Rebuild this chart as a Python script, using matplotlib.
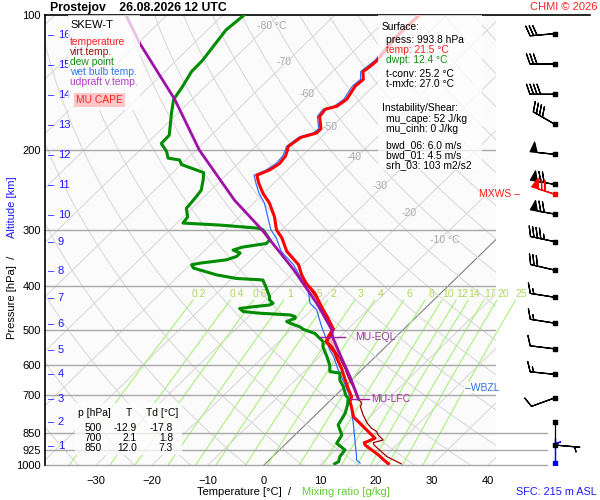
import numpy as np
import matplotlib
matplotlib.use('Agg')
import matplotlib.pyplot as plt
from matplotlib.patches import Rectangle

plt.rcParams['font.family'] = ['Liberation Sans', 'DejaVu Sans']

# ---- sounding data ----
p_temp = [994, 971, 950, 903, 892, 888, 872, 843, 808, 781, 742, 723, 705, 675, 642,
          610, 579, 564, 545, 532, 515, 499, 470, 445, 415, 395, 378, 359, 335, 313,
          300, 281, 262, 249, 236, 227, 221, 214, 206, 200, 196, 187, 183, 179, 168,
          162, 159.5, 154, 144, 139, 133.6, 130.6, 126.3, 112, 100]
t_temp = [22.0, 20.2, 18.6, 14.4, 13.8, 14.1, 14.9, 12.5, 9.5, 7.1, 4.9, 3.7, 3.1, 0.9, -1.5,
          -3.9, -6.6, -7.9, -10.0, -11.6, -12.2, -12.6, -15.8, -18.8, -22.5, -25.8, -28.2, -30.6, -35.2, -38.5,
          -41.0, -43.7, -47.1, -50.1, -52.8, -54.5, -53.2, -52.6, -52.9, -53.6, -54.2, -53.6, -51.6, -51.6, -54.1,
          -54.4, -52.9, -52.4, -53.3, -53.1, -54.6, -54.3, -54.1, -55.0, -54.9]

p_virt = [994, 958, 903, 892, 888, 880, 858, 843, 829, 808, 774, 742, 729, 705, 675,
          642, 610, 579, 545, 532, 515, 499, 470, 445, 400]
t_virt = [24.3, 20.4, 16.0, 15.4, 15.8, 16.7, 14.9, 14.0, 12.5, 10.8, 8.5, 6.5, 6.1, 4.0, 1.9,
          -0.8, -3.3, -6.1, -9.6, -11.3, -11.9, -12.4, -15.6, -18.7, -25.0]

p_wetb = [990, 975, 958, 895, 808, 755, 705, 660, 615, 574, 555, 527, 493, 452, 437,
          408, 381, 359, 335, 313, 300, 281, 262, 249, 236, 227, 221, 214, 206, 200,
          196, 187, 183, 179, 168, 162, 159.5, 154, 144, 139, 133.6, 130.6, 126.3, 112, 100]
t_wetb = [16.8, 15.6, 15.0, 12.3, 8.3, 5.5, 2.8, -0.5, -4.2, -7.5, -9.4, -11.8, -15.1, -19.1, -21.5,
          -24.3, -28.2, -31.5, -36.2, -39.5, -42.0, -44.9, -48.0, -50.8, -53.3, -55.0, -53.8, -53.2, -53.4, -54.0,
          -54.5, -54.0, -52.2, -52.0, -54.5, -54.8, -53.4, -52.9, -53.8, -53.6, -55.0, -54.8, -54.5, -55.3, -55.2]

p_dewp = [994, 983, 958, 926, 895, 858, 815, 768, 736, 711, 700, 670, 647, 625, 620,
          600, 574, 546, 532, 510, 500, 493, 484, 480, 472, 468, 464, 460, 456, 449,
          445, 441, 437, 430, 422, 401, 388, 385, 378, 365, 359, 356, 350, 344, 338,
          333, 328, 322, 316, 300, 297.5, 293, 290, 281, 269, 253, 245, 232, 224, 215,
          210, 208, 201, 193, 185, 165, 154, 145, 133.6, 126.3, 108, 100]
t_dewp = [12.4, 12.7, 12.0, 11.7, 9.0, 8.4, 5.9, 5.0, 3.9, 2.8, 1.8, -0.2, -2.1, -3.3, -5.4,
          -6.6, -8.7, -11.2, -12.1, -15.1, -17.8, -19.0, -21.4, -22.3, -21.4, -21.7, -22.9, -28.6, -31.9, -33.1,
          -31.0, -28.4, -28.1, -29.3, -30.0, -32.5, -34.2, -39.2, -43.4, -48.8, -49.7, -48.5, -44.4, -43.2, -43.2,
          -45.0, -43.9, -40.3, -40.3, -43.4, -44.8, -51.9, -58.9, -59.2, -61.0, -61.4, -61.7, -63.3, -64.5, -69.9,
          -71.1, -73.5, -75.0, -77.4, -77.5, -81.2, -83.3, -84.0, -85.2, -85.3, -86.7, -86.2]

p_parcel = [714, 711, 636, 565, 519, 501, 437, 368, 344, 300, 258, 199.6, 154, 115.5, 100]
t_parcel = [4.7, 4.6, -0.9, -7.0, -11.3, -12.7, -20.3, -30.6, -34.9, -43.6, -53.9, -69.4, -83.1, -99.7, -107.3]

p_eql = 519
p_lfc = 714
p_wbzl = 673

# altitude scale (km) and the pressure at each km
alt_km = list(range(1, 17))
p_alt = [907, 802.5, 713, 628, 555, 486, 425, 370.5, 319, 278, 239, 204.5, 175.5, 150.5, 129, 110.8]

# winds at the km levels (kt)
p_wind = [110, 128.5, 150, 175, 204, 238, 277, 319, 369, 424, 484, 552, 629, 709, 903]
wdir = [265, 270, 270, 300, 276, 280, 280, 282, 283, 279, 279, 277, 276, 250, 95]
wspd = [30, 30, 40, 40, 50, 70, 70, 45, 30, 15, 15, 10, 15, 10, 5]
p_calm = 804
p_mxws, dir_mxws, spd_mxws = 250, 288, 70
p_sfc_wind, dir_sfc, spd_sfc = 990, 360, 5

mix_ratios = [0.2, 0.4, 0.6, 1, 1.5, 2, 3, 4, 6, 8, 10, 12, 14, 17, 20, 25]
iso_lab_t = [-80, -70, -60, -50, -40, -30, -20, -10]
iso_lab_p = [106, 127, 150, 177, 207, 240, 275, 316]
iso_lab_s = ['-80 °C', '-70', '-60', '-50', '-40', '-30', '-20', '-10 °C']

SKEW = 35.9
W, H = 600, 500


def skx(t, p):
    return np.asarray(t, float) + SKEW * np.log(1000.0 / np.asarray(p, float))


def fx(px):
    return px / W


def fy(py):
    return 1 - py / H


fig = plt.figure(figsize=(6, 5), dpi=100, facecolor='white')
ax = fig.add_axes([fx(45), fy(465), 451 / W, 450 / H])
ax.set_facecolor('#fbfbfb')
ax.set_yscale('log')
ax.set_ylim(1000, 100)
x0, x1 = (45 - 264) / 5.6, (496 - 264) / 5.6
ax.set_xlim(x0, x1)

pp = np.logspace(np.log10(1000), np.log10(100), 200)

# isotherms
for t in range(-130, 50, 10):
    c = '#808080' if t == 0 else '#dadada'
    ax.plot(skx(t, pp), pp, color=c, lw=0.8, zorder=1)
# dry adiabats
for th in range(230, 480, 10):
    tt = th * (pp / 1000.0) ** 0.2857 - 273.15
    ax.plot(skx(tt, pp), pp, color='#dadada', lw=0.8, zorder=1)

# mixing ratio lines
clip = Rectangle((0, 0), 1.3, 1, transform=ax.transAxes, visible=False)
ax.add_patch(clip)
pm = np.logspace(np.log10(1000), np.log10(430), 60)
for w in mix_ratios:
    e = w * pm / (622.0 + w)
    le = np.log(e / 6.112)
    td = 243.5 * le / (17.67 - le)
    ln, = ax.plot(skx(td, pm), pm, color='#a8f07c', lw=0.8, zorder=1.5, clip_on=True)
    ln.set_clip_path(clip)
    ax.text(skx(td[-1], 417), 417, ('%g' % w), color='#b0d85a', fontsize=7.5,
            ha='center', va='center', zorder=1.5, clip_on=False)

# isobars
for p in [200, 300, 400, 500, 600, 700]:
    ax.plot([x0, x1], [p, p], color='#a8a8a8', lw=1, zorder=2)
for p in [850, 925, 1000]:
    ax.plot([x0, (547 - 264) / 5.6], [p, p], color='#a8a8a8', lw=1, zorder=2, clip_on=False)
ax.plot([x0, (590 - 264) / 5.6], [100, 100], color='black', lw=1.2, zorder=2, clip_on=False)

for t, p, s in zip(iso_lab_t, iso_lab_p, iso_lab_s):
    ax.text(skx(t, p) - 1.8, p, s, color='#a8a8a8', fontsize=7.5, ha='left', va='center', zorder=1.6)

# CAPE area
pg = np.logspace(np.log10(p_lfc), np.log10(p_eql), 40)
xv = np.interp(-np.log(pg), -np.log(p_virt), skx(t_virt, p_virt))
xp = np.interp(-np.log(pg), -np.log(p_parcel), skx(t_parcel, p_parcel))
ax.fill_betweenx(pg, xv, xp, where=xp > xv, color='#f5b4b4', lw=0, zorder=2.5)

# profiles
ax.plot(skx(t_virt, p_virt), p_virt, color='#a00000', lw=0.9, zorder=3)
ax.plot(skx(t_wetb, p_wetb), p_wetb, color='#2f6fff', lw=0.9, zorder=3.2)
ax.plot(skx(t_temp, p_temp), p_temp, color='#ff0000', lw=2.2, zorder=4)
ax.plot(skx(t_dewp, p_dewp), p_dewp, color='#008c00', lw=2.2, zorder=4)
ax.plot(skx(t_parcel, p_parcel), p_parcel, color='#a010a8', lw=2.0, zorder=4.5)

# EQL / LFC markers
xe = np.interp(-np.log(p_eql), -np.log(p_parcel), skx(t_parcel, p_parcel))
ax.plot([xe - 2.3, xe + 2.3], [p_eql, p_eql], color='#a020a0', lw=1, zorder=5)
ax.text(xe + 4.0, p_eql, 'MU-EQL', color='#a030a0', fontsize=7.5, va='center', zorder=5)
xl = np.interp(-np.log(p_lfc), -np.log(p_parcel), skx(t_parcel, p_parcel))
ax.plot([xl - 1.4, xl + 2.0], [p_lfc, p_lfc], color='#a020a0', lw=1, zorder=5)
ax.text(xl + 2.4, p_lfc, 'MU-LFC', color='#a030a0', fontsize=7.5, va='center', zorder=5)
ax.text((465 - 264) / 5.6, p_wbzl, '–WBZL', color='#3070e0', fontsize=7.5, va='center',
        zorder=5, clip_on=False, bbox=dict(facecolor='white', edgecolor='none', pad=0.5))

# axes style
for s in ['top', 'right', 'bottom']:
    ax.spines[s].set_visible(False)
ax.spines['left'].set_linewidth(1.2)
ax.set_yticks([100, 200, 300, 400, 500, 600, 700, 850, 925, 1000])
ax.set_yticklabels(['100', '200', '300', '400', '500', '600', '700', '850', '925', '1000'])
ax.yaxis.set_minor_locator(matplotlib.ticker.NullLocator())
ax.set_xticks(range(-30, 41, 10))
ax.tick_params(axis='both', length=0, labelsize=8)
ax.tick_params(axis='y', pad=3)
ax.tick_params(axis='x', pad=8)

# altitude scale
for k, p in zip(alt_km, p_alt):
    ax.text(0.006, p, '–', color='#1a1aff', fontsize=8, va='center', ha='left',
            transform=ax.get_yaxis_transform())
    ax.text(0.028, p, str(k), color='#1a1aff', fontsize=8, va='center', ha='left',
            transform=ax.get_yaxis_transform())

# semi transparent boxes
fig.patches.append(Rectangle((fx(68), fy(110)), 72 / W, 95 / H, transform=fig.transFigure,
                             facecolor='white', alpha=0.75, edgecolor='none', zorder=6))
fig.patches.append(Rectangle((fx(378), fy(170)), 104 / W, 155 / H, transform=fig.transFigure,
                             facecolor='white', alpha=0.75, edgecolor='none', zorder=6))
fig.patches.append(Rectangle((fx(75), fy(455)), 107 / W, 52 / H, transform=fig.transFigure,
                             facecolor='white', alpha=0.75, edgecolor='none', zorder=6))

fs = 7.4
leg = [('SKEW-T', 'black', 25), ('temperature', '#ff2020', 42), ('virt.temp.', '#a01010', 52),
       ('dew point', '#109010', 62), ('wet bulb temp.', '#3377ee', 72), ('udpraft v.temp.', '#b040c0', 82)]
for s, c, y in leg:
    fig.text(fx(70), fy(y), s, color=c, fontsize=fs if s != 'SKEW-T' else 8, va='center', zorder=7)
fig.text(fx(76), fy(100), 'MU CAPE', color='#ff2020', fontsize=fs, va='center', zorder=7,
         bbox=dict(facecolor='#ffc8c8', edgecolor='none', pad=1.5))

info = [('Surface:', 'black', 382, 27), ('press: 993.8 hPa', 'black', 386, 40),
        ('temp: 21.5 °C', '#ff2020', 386, 50), ('dwpt: 12.4 °C', '#109010', 386, 60),
        ('t-conv: 25.2 °C', 'black', 386, 74), ('t-mxfc: 27.0 °C', 'black', 386, 84),
        ('Instability/Shear:', 'black', 382, 108), ('mu_cape: 52 J/kg', 'black', 386, 119),
        ('mu_cinh: 0 J/kg', 'black', 386, 129), ('bwd_06: 6.0 m/s', 'black', 386, 145),
        ('bwd_01: 4.5 m/s', 'black', 386, 155), ('srh_03: 103 m2/s2', 'black', 386, 165)]
for s, c, x, y in info:
    fig.text(fx(x), fy(y), s, color=c, fontsize=fs, va='center', zorder=7)

tab_p = ['500', '700', '850']
tab_t = ['-12.9', '2.1', '12.0']
tab_td = ['-17.8', '1.8', '7.3']
fig.text(fx(78), fy(413), 'p [hPa]', fontsize=fs, va='center', zorder=7)
fig.text(fx(126), fy(413), 'T', fontsize=fs, va='center', zorder=7)
fig.text(fx(146), fy(413), 'Td [°C]', fontsize=fs, va='center', zorder=7)
for i in range(3):
    y = 428 + 10 * i
    fig.text(fx(102), fy(y), tab_p[i], fontsize=fs, va='center', ha='right', zorder=7)
    fig.text(fx(137), fy(y), tab_t[i], fontsize=fs, va='center', ha='right', zorder=7)
    fig.text(fx(173), fy(y), tab_td[i], fontsize=fs, va='center', ha='right', zorder=7)

# titles and labels
fig.text(fx(50), fy(8), 'Prostejov    26.08.2026 12 UTC', fontsize=8.8, fontweight='bold', va='center')
fig.text(fx(597), fy(7), 'CHMI © 2026', fontsize=8, color='#ff2020', ha='right', va='center')
fig.text(fx(597), fy(492), 'SFC: 215 m ASL', fontsize=7.8, color='#1a1aff', ha='right', va='center')
fig.text(fx(197), fy(492), 'Temperature [°C]  /', fontsize=8, va='center')
fig.text(fx(302), fy(492), 'Mixing ratio [g/kg]', fontsize=8, color='#66cc33', va='center')
fig.text(fx(12), fy(297), 'Pressure [hPa]  /', fontsize=8, rotation=90, ha='center', va='center')
fig.text(fx(12), fy(207), 'Altitude [km]', fontsize=8, color='#1a1aff', rotation=90, ha='center', va='center')
fig.text(fx(520), fy(194), 'MXWS –', fontsize=7.5, color='#ff2020', ha='right', va='center')

# wind barbs column
ax2 = fig.add_axes([fx(500), fy(465), 100 / W, 450 / H])
ax2.set_yscale('log')
ax2.set_ylim(1000, 100)
ax2.set_xlim(0, 1)
ax2.axis('off')
xb = 0.55
bl = 6.0
bsz = dict(spacing=0.14, height=0.4, width=0.28)
binc = dict(half=5, full=10, flag=50)
wd = np.radians(wdir)
u = -np.array(wspd) * np.sin(wd)
v = -np.array(wspd) * np.cos(wd)
ax2.barbs([xb] * len(p_wind), p_wind, u, v, length=bl, lw=0.9, color='black',
          barb_increments=binc, sizes=bsz)
dm = np.radians(dir_mxws)
ax2.barbs([xb], [p_mxws], [-spd_mxws * np.sin(dm)], [-spd_mxws * np.cos(dm)], length=bl, lw=0.9,
          color='red', barb_increments=binc, sizes=bsz)
ds = np.radians(dir_sfc)
ax2.barbs([xb], [p_sfc_wind], [-spd_sfc * np.sin(ds)], [-spd_sfc * np.cos(ds)], length=bl, lw=0.9,
          color='blue', barb_increments=binc, sizes=bsz)
# calm wind: staff only, pointing south
ax2.plot([xb, xb], [p_calm, p_calm * np.exp(23 / 195.4)], color='black', lw=0.9)
ax2.scatter([xb] * (len(p_wind) + 1), p_wind + [p_calm], marker='s', s=5, color='black', zorder=5)
ax2.scatter([xb], [p_mxws], marker='s', s=5, color='red', zorder=5)
ax2.scatter([xb], [p_sfc_wind], marker='s', s=5, color='blue', zorder=5)

fig.savefig('out.png', dpi=100, facecolor='white')
